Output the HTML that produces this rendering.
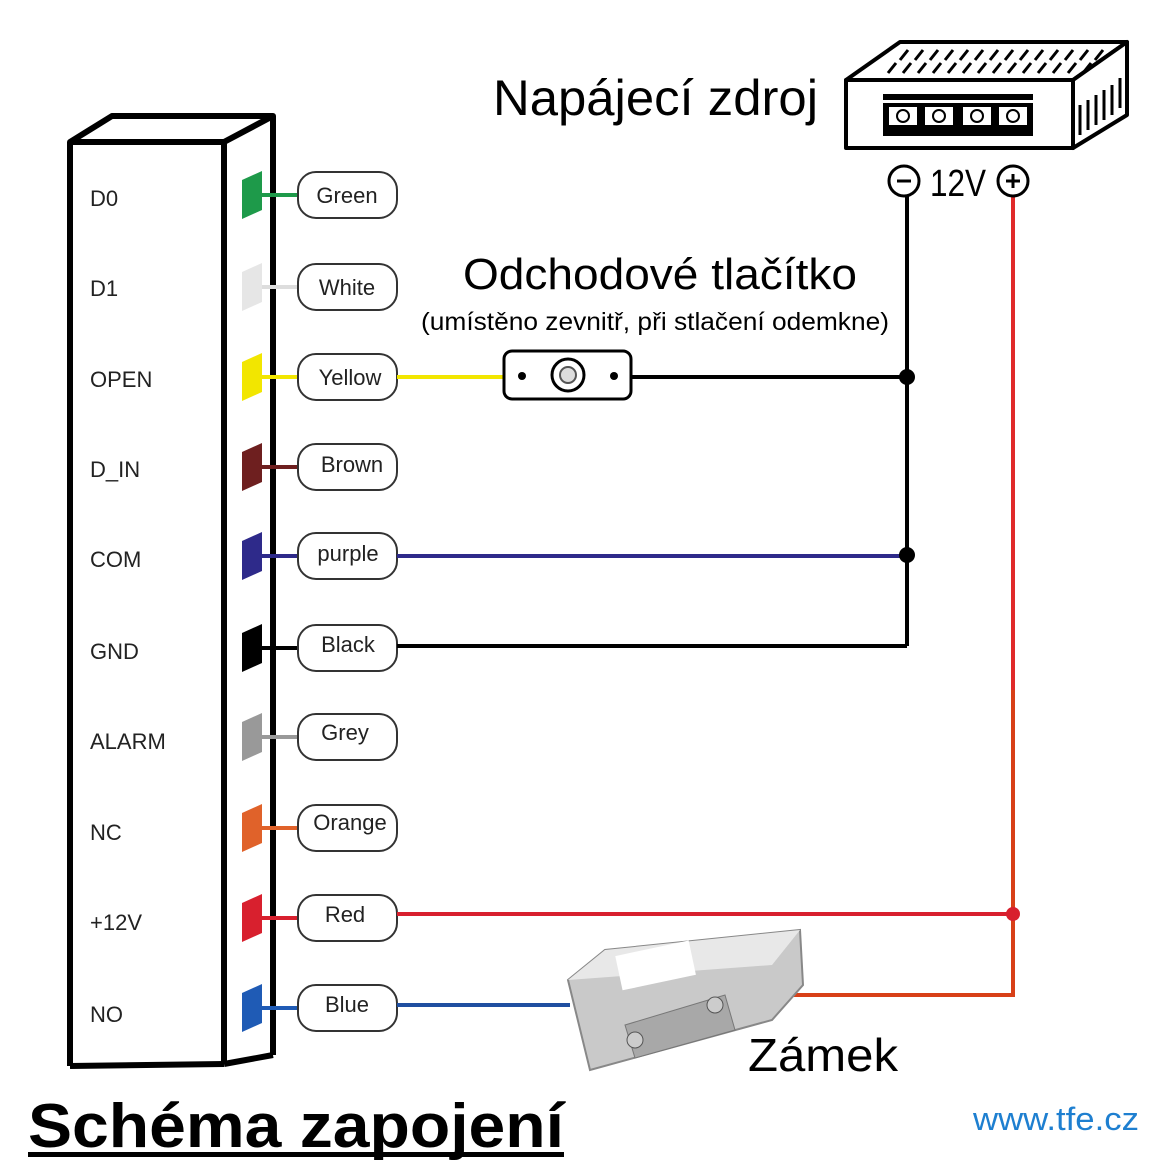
<!DOCTYPE html>
<html><head><meta charset="utf-8"><style>
html,body{margin:0;padding:0;background:#fff}
svg{display:block}
text{font-family:"Liberation Sans",sans-serif}
</style></head><body>
<svg width="1171" height="1171" viewBox="0 0 1171 1171" xmlns="http://www.w3.org/2000/svg">
<g stroke="#000" stroke-width="6" fill="none" stroke-linejoin="round">
<polygon points="70,142 112,116 273,116 224,142"/>
<line x1="70" y1="142" x2="70" y2="1066"/>
<line x1="224" y1="142" x2="224" y2="1064"/>
<line x1="273" y1="116" x2="273" y2="1055"/>
<line x1="70" y1="1066" x2="224" y2="1064"/>
<line x1="224" y1="1064" x2="273" y2="1055"/>
</g>
<g font-size="22" fill="#222">
<text x="90" y="206">D0</text>
<text x="90" y="296">D1</text>
<text x="90" y="387">OPEN</text>
<text x="90" y="477">D_IN</text>
<text x="90" y="567">COM</text>
<text x="90" y="659">GND</text>
<text x="90" y="749">ALARM</text>
<text x="90" y="840">NC</text>
<text x="90" y="930">+12V</text>
<text x="90" y="1022">NO</text>
</g>
<g font-size="22" fill="#222" text-anchor="middle">
<g transform="translate(0,195)"><polygon points="242,-15 262,-24 262,15 242,24" fill="#1e9a4a"/><line x1="262" y1="0" x2="300" y2="0" stroke="#1e9a4a" stroke-width="4"/><rect x="298" y="-23" width="99" height="46" rx="18" fill="#fff" stroke="#333" stroke-width="2"/><text x="347" y="8">Green</text></g>
<g transform="translate(0,287)"><polygon points="242,-15 262,-24 262,15 242,24" fill="#e6e6e6"/><line x1="262" y1="0" x2="300" y2="0" stroke="#ddd" stroke-width="4"/><rect x="298" y="-23" width="99" height="46" rx="18" fill="#fff" stroke="#333" stroke-width="2"/><text x="347" y="8">White</text></g>
<g transform="translate(0,377)"><polygon points="242,-15 262,-24 262,15 242,24" fill="#f2e600"/><line x1="262" y1="0" x2="300" y2="0" stroke="#f2e600" stroke-width="4"/><rect x="298" y="-23" width="99" height="46" rx="18" fill="#fff" stroke="#333" stroke-width="2"/><text x="350" y="8">Yellow</text></g>
<g transform="translate(0,467)"><polygon points="242,-15 262,-24 262,15 242,24" fill="#6e1f1f"/><line x1="262" y1="0" x2="300" y2="0" stroke="#6e1f1f" stroke-width="4"/><rect x="298" y="-23" width="99" height="46" rx="18" fill="#fff" stroke="#333" stroke-width="2"/><text x="352" y="5">Brown</text></g>
<g transform="translate(0,556)"><polygon points="242,-15 262,-24 262,15 242,24" fill="#2e2a8a"/><line x1="262" y1="0" x2="300" y2="0" stroke="#2e2a8a" stroke-width="4"/><rect x="298" y="-23" width="99" height="46" rx="18" fill="#fff" stroke="#333" stroke-width="2"/><text x="348" y="5">purple</text></g>
<g transform="translate(0,648)"><polygon points="242,-15 262,-24 262,15 242,24" fill="#000"/><line x1="262" y1="0" x2="300" y2="0" stroke="#000" stroke-width="4"/><rect x="298" y="-23" width="99" height="46" rx="18" fill="#fff" stroke="#333" stroke-width="2"/><text x="348" y="4">Black</text></g>
<g transform="translate(0,737)"><polygon points="242,-15 262,-24 262,15 242,24" fill="#999"/><line x1="262" y1="0" x2="300" y2="0" stroke="#999" stroke-width="4"/><rect x="298" y="-23" width="99" height="46" rx="18" fill="#fff" stroke="#333" stroke-width="2"/><text x="345" y="3">Grey</text></g>
<g transform="translate(0,828)"><polygon points="242,-15 262,-24 262,15 242,24" fill="#e0622a"/><line x1="262" y1="0" x2="300" y2="0" stroke="#e0622a" stroke-width="4"/><rect x="298" y="-23" width="99" height="46" rx="18" fill="#fff" stroke="#333" stroke-width="2"/><text x="350" y="2">Orange</text></g>
<g transform="translate(0,918)"><polygon points="242,-15 262,-24 262,15 242,24" fill="#d8202e"/><line x1="262" y1="0" x2="300" y2="0" stroke="#d8202e" stroke-width="4"/><rect x="298" y="-23" width="99" height="46" rx="18" fill="#fff" stroke="#333" stroke-width="2"/><text x="345" y="4">Red</text></g>
<g transform="translate(0,1008)"><polygon points="242,-15 262,-24 262,15 242,24" fill="#1f5bb5"/><line x1="262" y1="0" x2="300" y2="0" stroke="#1f5bb5" stroke-width="4"/><rect x="298" y="-23" width="99" height="46" rx="18" fill="#fff" stroke="#333" stroke-width="2"/><text x="347" y="4">Blue</text></g>
</g>
<g fill="none" stroke-width="4">
<line x1="397" y1="377" x2="505" y2="377" stroke="#f2e600"/>
<line x1="630" y1="377" x2="907" y2="377" stroke="#000"/>
<line x1="907" y1="195" x2="907" y2="646" stroke="#000"/>
<line x1="397" y1="556" x2="907" y2="556" stroke="#2e2a8a"/>
<line x1="397" y1="646" x2="907" y2="646" stroke="#000"/>
<line x1="1013" y1="195" x2="1013" y2="690" stroke="#e02a2a"/>
<polyline points="1013,690 1013,995 785,995" stroke="#d84018"/>
<line x1="397" y1="914" x2="1013" y2="914" stroke="#d8202e"/>
<line x1="397" y1="1005" x2="570" y2="1005" stroke="#1f4fa0"/>
</g>
<circle cx="907" cy="377" r="8" fill="#000"/>
<circle cx="907" cy="555" r="8" fill="#000"/>
<circle cx="1013" cy="914" r="7" fill="#d8202e"/>
<rect x="504" y="351" width="127" height="48" rx="8" fill="#fff" stroke="#000" stroke-width="3"/>
<circle cx="522" cy="376" r="4" fill="#000"/><circle cx="614" cy="376" r="4" fill="#000"/>
<circle cx="568" cy="375" r="16" fill="#fff" stroke="#000" stroke-width="3"/><circle cx="568" cy="375" r="8" fill="#ddd" stroke="#555" stroke-width="2"/>
<text x="463" y="289" font-size="44" textLength="394" lengthAdjust="spacingAndGlyphs" fill="#000">Odchodové tlačítko</text>
<text x="421" y="330" font-size="25" textLength="468" lengthAdjust="spacingAndGlyphs" fill="#000">(umístěno zevnitř, při stlačení odemkne)</text>
<text x="493" y="115" font-size="50" textLength="325" lengthAdjust="spacingAndGlyphs" fill="#000">Napájecí zdroj</text>
<g stroke="#000" stroke-width="4" fill="#fff" stroke-linejoin="round">
<polygon points="846,80 900,42 1127,42 1073,80"/>
<rect x="846" y="80" width="227" height="68"/>
<polygon points="1073,80 1127,42 1127,115 1073,148"/>
</g>
<g stroke="#000" stroke-width="3">
<path d="M900,60 l8,-10 M915,60 l8,-10 M930,60 l8,-10 M945,60 l8,-10 M960,60 l8,-10 M975,60 l8,-10 M990,60 l8,-10 M1005,60 l8,-10 M1020,60 l8,-10 M1035,60 l8,-10 M1050,60 l8,-10 M1065,60 l8,-10 M1080,60 l8,-10 M1095,60 l8,-10"/>
<path d="M888,73 l8,-10 M903,73 l8,-10 M918,73 l8,-10 M933,73 l8,-10 M948,73 l8,-10 M963,73 l8,-10 M978,73 l8,-10 M993,73 l8,-10 M1008,73 l8,-10 M1023,73 l8,-10 M1038,73 l8,-10 M1053,73 l8,-10 M1068,73 l8,-10 M1083,73 l8,-10"/>
<path d="M1080,105 v30 M1088,100 v30 M1096,95 v30 M1104,90 v30 M1112,85 v30 M1120,78 v30" fill="none"/>
</g>
<rect x="883" y="94" width="150" height="42" fill="#000"/>
<rect x="883" y="100" width="150" height="3" fill="#fff"/>
<g fill="#fff" stroke="#000" stroke-width="2">
<rect x="888" y="106" width="30" height="20"/><rect x="924" y="106" width="30" height="20"/><rect x="962" y="106" width="30" height="20"/><rect x="998" y="106" width="30" height="20"/>
<circle cx="903" cy="116" r="6"/><circle cx="939" cy="116" r="6"/><circle cx="977" cy="116" r="6"/><circle cx="1013" cy="116" r="6"/>
</g>
<circle cx="904" cy="181" r="15" fill="#fff" stroke="#000" stroke-width="3"/>
<line x1="897" y1="181" x2="911" y2="181" stroke="#000" stroke-width="3"/>
<circle cx="1013" cy="181" r="15" fill="#fff" stroke="#000" stroke-width="3"/>
<path d="M1006,181 h14 M1013,174 v14" stroke="#000" stroke-width="3"/>
<text x="930" y="196" font-size="38" textLength="56" lengthAdjust="spacingAndGlyphs" fill="#000">12V</text>
<polygon points="568,980 605,950 800,930 803,985 772,1020 590,1070" fill="#c9c9c9" stroke="#888" stroke-width="2"/>
<polygon points="568,980 605,950 800,930 772,965" fill="#e8e8e8"/>
<rect x="618" y="948" width="75" height="35" fill="#fff" transform="rotate(-12 655 965)"/>
<polygon points="625,1025 725,995 735,1030 635,1058" fill="#a8a8a8" stroke="#777"/>
<circle cx="635" cy="1040" r="8" fill="#ccc" stroke="#555"/><circle cx="715" cy="1005" r="8" fill="#ccc" stroke="#555"/>
<text x="748" y="1071" font-size="46" textLength="150" lengthAdjust="spacingAndGlyphs" fill="#000">Zámek</text>
<text x="28" y="1147" font-size="62" font-weight="bold" textLength="536" lengthAdjust="spacingAndGlyphs" fill="#000">Schéma zapojení</text>
<rect x="28" y="1152" width="536" height="5" fill="#000"/>
<text x="973" y="1130" font-size="32" textLength="166" lengthAdjust="spacingAndGlyphs" fill="#1e7fd0">www.tfe.cz</text>
</svg>
</body></html>
